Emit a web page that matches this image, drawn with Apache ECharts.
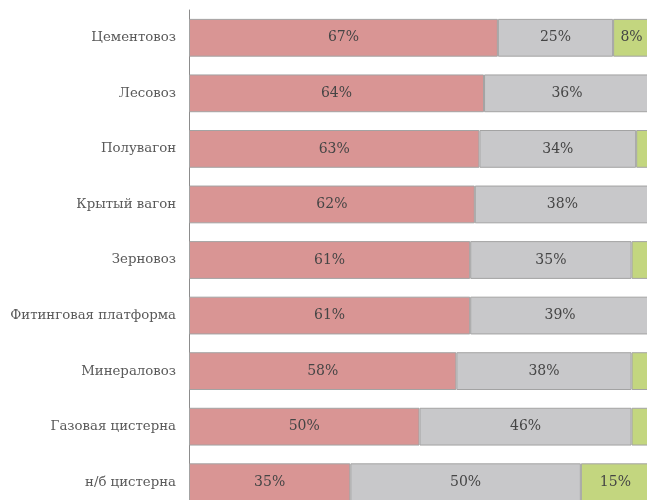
<!DOCTYPE html>
<html>
<head>
<meta charset="utf-8">
<script src="https://cdn.jsdelivr.net/npm/echarts@6/dist/echarts.min.js"></script>
<style>
  html, body { margin: 0; padding: 0; background: #fff; }
  #chart { width: 647px; height: 500px; }
</style>
</head>
<body>
<div id="chart"></div>
<script>
// Wagon types, top to bottom
const categories = [
  'Цементовоз', 'Лесовоз', 'Полувагон', 'Крытый вагон', 'Зерновоз',
  'Фитинговая платформа', 'Минераловоз', 'Газовая цистерна', 'н/б цистерна'
];
// Shares per wagon type, %
const shareRed   = [67, 64, 63, 62, 61, 61, 58, 50, 35];
const shareGrey  = [25, 36, 34, 38, 35, 39, 38, 46, 50];
const shareGreen = [8, 0, 3, 0, 4, 0, 4, 4, 15];

const font = '"DejaVu Serif", "Liberation Serif", serif';

function seg(name, data, color) {
  return {
    name: name,
    type: 'bar',
    stack: 'total',
    data: data,
    barCategoryGap: '32%',
    itemStyle: { color: color, borderColor: '#a3a3a3', borderWidth: 1 },
    label: {
      show: true,
      position: 'inside',
      fontFamily: font,
      fontSize: 14,
      color: '#454545',
      formatter: p => (p.value >= 5 ? p.value + '%' : '')
    },
    emphasis: { disabled: true }
  };
}

const chart = echarts.init(document.getElementById('chart'), null, { renderer: 'canvas' });
chart.setOption({
  animation: false,
  grid: { left: 189, top: 10, width: 461, height: 500, outerBoundsMode: 'none', containLabel: false },
  xAxis: {
    type: 'value',
    min: 0,
    max: 100,
    show: false
  },
  yAxis: {
    type: 'category',
    data: categories,
    inverse: true,
    axisLine: { show: true, lineStyle: { color: '#8c8c8c', width: 1 } },
    axisTick: { show: false },
    axisLabel: {
      fontFamily: font,
      fontSize: 13.3,
      color: '#595959',
      margin: 13
    }
  },
  series: [
    seg('A', shareRed, '#d99594'),
    seg('B', shareGrey, '#c8c8ca'),
    seg('C', shareGreen, '#c3d67f')
  ]
});
</script>
</body>
</html>
